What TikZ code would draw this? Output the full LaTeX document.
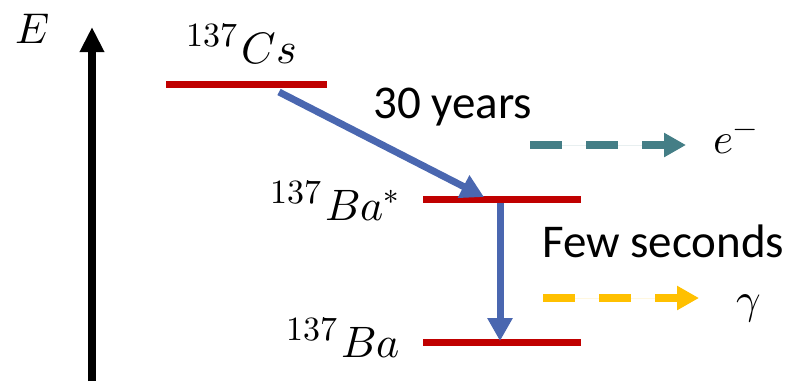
\documentclass[tikz,border=0pt]{standalone}
\usepackage{fontspec}
\usepackage{unicode-math}
\setmainfont{Carlito}
\setmathfont{Latin Modern Math}
\usetikzlibrary{arrows.meta}
\definecolor{lvlred}{HTML}{C00000}
\definecolor{arrblue}{HTML}{4A67B0}
\definecolor{tealc}{HTML}{447E86}
\definecolor{yelc}{HTML}{FFC000}
\newcommand\isolabel[2]{\raisebox{17pt}{\fontsize{34}{35}\selectfont$#1$}\kern4pt{\fontsize{44}{48}\selectfont$#2$}}
\begin{document}
\begin{tikzpicture}[x=1pt,y=-1pt,
  level/.style={draw=lvlred,line width=7pt},
  trans/.style={draw=arrblue,line width=7pt,-{Triangle[length=23pt,width=24pt]}},
  emis/.style={line width=8pt,dash pattern=on 32pt off 24pt,-{Triangle[length=22pt,width=23pt]}},
  txt/.style={font=\fontsize{47}{50}\selectfont,inner sep=0pt,anchor=base west},
  lab/.style={inner sep=0pt,anchor=base west},
  mlab/.style={lab,font=\fontsize{43}{46}\selectfont}]
\useasboundingbox (0,0) rectangle (792,381);
% energy axis
\coordinate (axb) at (92,381);
\coordinate (axt) at (92,27);
\draw[line width=8pt,-{Triangle[length=25pt,width=23pt]}] (axb) -- (axt);
\node[mlab] (E) at (15,43) {$E$};
% levels
\coordinate (csl) at (166,84); \coordinate (csr) at (327,84);
\coordinate (bsl) at (423,199); \coordinate (bsr) at (581,199);
\coordinate (bgl) at (423,342); \coordinate (bgr) at (581,342);
\draw[level] (csl) -- (csr);
\draw[level] (bsl) -- (bsr);
\draw[level] (bgl) -- (bgr);
% labels
\node[lab] (cs) at (186,63) {\isolabel{137}{Cs}};
\node[lab] (bas) at (270,220) {\isolabel{137}{Ba^*}};
\node[lab] (ba) at (286,357) {\isolabel{137}{Ba}};
% transitions
\coordinate (t1s) at (279,92); \coordinate (t1e) at (484,197);
\coordinate (t2s) at (500,203); \coordinate (t2e) at (500,341);
\draw[trans] (t1s) -- (t1e);
\draw[trans] (t2s) -- (t2e);
\node[txt] (yrs) at (373,118) {30 years};
\node[txt] (few) at (542,257) {Few seconds};
% emissions
\coordinate (es) at (530,145); \coordinate (ee) at (686,145);
\coordinate (gs) at (543,298); \coordinate (ge) at (699,298);
\draw[emis,draw=tealc,fill=tealc] (es) -- (ee);
\draw[emis,draw=yelc,fill=yelc] (gs) -- (ge);
\node[mlab] (el) at (713,153) {$e^-$};
\node[mlab] (gl) at (736,313) {$\gamma$};
\end{tikzpicture}
\end{document}
